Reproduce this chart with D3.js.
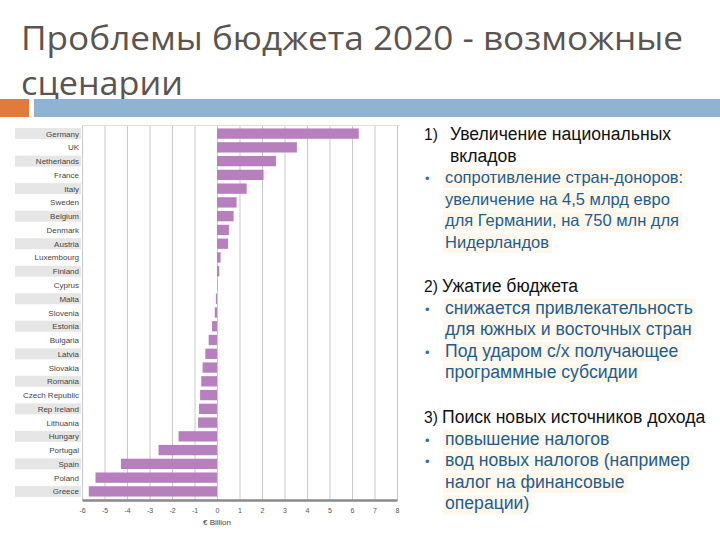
<!DOCTYPE html>
<html><head><meta charset="utf-8">
<script src="https://cdn.jsdelivr.net/npm/d3@7"></script>
<style>body{margin:0;background:#fff}svg{display:block}</style>
</head><body>
<svg id="c" width="720" height="540"></svg>
<script>
const categories = ["Germany","UK","Netherlands","France","Italy","Sweden","Belgium","Denmark","Austria","Luxembourg","Finland","Cyprus","Malta","Slovenia","Estonia","Bulgaria","Latvia","Slovakia","Romania","Czech Republic","Rep Ireland","Lithuania","Hungary","Portugal","Spain","Poland","Greece"];
const values = [6.3,3.55,2.62,2.07,1.32,0.87,0.74,0.53,0.49,0.16,0.1,0.02,-0.05,-0.1,-0.22,-0.37,-0.52,-0.64,-0.7,-0.75,-0.8,-0.84,-1.71,-2.6,-4.27,-5.4,-5.7];
const xTicks = [-6,-5,-4,-3,-2,-1,0,1,2,3,4,5,6,7,8];
const axisTitle = "€ Billion";
const titleLines = ["Проблемы бюджета 2020 - возможные","сценарии"];
const textBlocks = [
  {head:["1)","Увеличение национальных","вкладов"], bullets:[["сопротивление стран-доноров:","увеличение на 4,5 млрд евро","для Германии, на 750 млн для","Нидерландов"]]},
  {head:["2)","Ужатие бюджета"], bullets:[["снижается привлекательность","для южных и восточных стран"],["Под ударом с/х получающее","программные субсидии"]]},
  {head:["3)","Поиск новых источников дохода"], bullets:[["повышение налогов"],["вод новых налогов (например","налог на финансовые","операции)"]]}
];

const svg = d3.select("#c");

svg.append("text").attr("x",21).attr("y",50).attr("font-family","Open Sans, sans-serif").attr("font-size",32)
  .attr("fill","#5a5550").attr("textLength",662).attr("lengthAdjust","spacingAndGlyphs").text(titleLines[0]);
svg.append("text").attr("x",21).attr("y",95).attr("font-family","Open Sans, sans-serif").attr("font-size",32)
  .attr("fill","#5a5550").attr("textLength",162).attr("lengthAdjust","spacingAndGlyphs").text(titleLines[1]);
svg.append("rect").attr("x",0).attr("y",99).attr("width",29).attr("height",18).attr("fill","#e07b3c");
svg.append("rect").attr("x",34).attr("y",99).attr("width",686).attr("height",18).attr("fill","#8fb3d2");

const x = d3.scaleLinear().domain([-6,8]).range([82,397]);
const y = d3.scaleBand().domain(categories).range([125,500]).padding(0.25);
const g = svg.append("g");
g.append("line").attr("x1",82).attr("x2",400).attr("y1",125.5).attr("y2",125.5).attr("stroke","#e6ddd4");
g.selectAll("rect.band").data(categories.filter((d,i)=>i%2===0)).join("rect")
  .attr("x",15).attr("width",66).attr("y",d=>y(d)+y.bandwidth()/2-5.5).attr("height",11).attr("fill","#e6e6e6");
g.selectAll("line.grid").data(xTicks).join("line")
  .attr("x1",d=>x(d)+0.5).attr("x2",d=>x(d)+0.5).attr("y1",126).attr("y2",500).attr("stroke","#c9c9c9");
g.selectAll("rect.bar").data(values).join("rect")
  .attr("x",(d)=>x(Math.min(0,d))).attr("width",d=>Math.abs(x(d)-x(0)))
  .attr("y",(d,i)=>y(categories[i])).attr("height",y.bandwidth()).attr("fill","#b77fbd");
g.selectAll("text.lab").data(categories).join("text")
  .attr("x",79).attr("y",d=>y(d)+y.bandwidth()/2+3).attr("text-anchor","end")
  .attr("font-family","Liberation Sans, Arial, sans-serif").attr("font-size",8).attr("fill","#444").text(d=>d);
const ax = g.append("g").attr("transform","translate(0,500)")
  .call(d3.axisBottom(x).tickValues(xTicks).tickSize(0).tickPadding(8).tickFormat(d=>String(d)));
ax.select(".domain").attr("stroke","#8a8a8a").attr("stroke-width",2.5);
ax.selectAll("text").attr("font-family","Liberation Sans, Arial, sans-serif").attr("font-size",7).attr("fill","#555");
g.append("text").attr("x",217).attr("y",525).attr("text-anchor","middle")
  .attr("font-family","Liberation Sans, Arial, sans-serif").attr("font-size",8).attr("fill","#444").text(axisTitle);

const tg = svg.append("g").attr("font-family","Liberation Sans, Arial, sans-serif");
const starts = [140, 292, 423];
const headSize = [17.6, 17.6, 17.6];
const bodySize = [16.5, 17.6, 17.6];
const lh = 21.6;
const bgLayer = tg.append("g");
textBlocks.forEach((b,bi)=>{
  let yy = starts[bi];
  const headX = bi===0 ? 450 : 442;
  tg.append("text").attr("x",424).attr("y",yy).attr("fill","#111").attr("font-size",headSize[bi]-2).text(b.head[0]);
  b.head.slice(1).forEach(t=>{
    tg.append("text").attr("x",headX).attr("y",yy).attr("fill","#111").attr("font-size",headSize[bi]).text(t);
    yy += lh;
  });
  b.bullets.forEach(bl=>{
    tg.append("text").attr("x",425).attr("y",yy).attr("fill","#2f6fa0").attr("font-size",13).text("•");
    bl.forEach(t=>{
      const tx = tg.append("text").attr("x",445).attr("y",yy).attr("fill","#1f5d8c").attr("font-size",bodySize[bi]).text(t);
      const w = tx.node().getComputedTextLength();
      bgLayer.append("rect").attr("x",443).attr("y",yy-15).attr("width",w+5).attr("height",20).attr("fill","#fef7ec");
      yy += lh;
    });
  });
});
</script>
</body></html>
